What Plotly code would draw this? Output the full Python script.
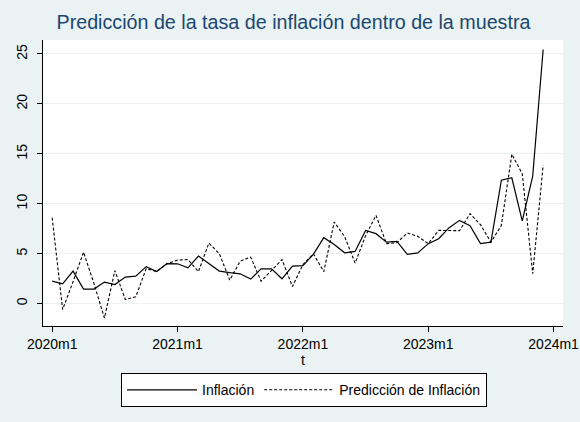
import plotly.graph_objects as go

# meses desde 2020m1 (0) hasta 2023m12 (47)
meses = list(range(48))

inflacion = [2.24, 1.98, 3.25, 1.45, 1.45, 2.15, 1.9, 2.65, 2.75, 3.7, 3.2, 4.0,
             3.98, 3.58, 4.75, 4.0, 3.25, 3.1, 2.98, 2.45, 3.48, 3.48, 2.48, 3.75,
             3.8, 4.92, 6.6, 5.92, 5.08, 5.22, 7.33, 7.0, 6.15, 6.22, 4.92, 5.08,
             6.0, 6.49, 7.6, 8.33, 7.8, 6.0, 6.15, 12.35, 12.6, 8.27, 12.75, 25.45]

prediccion = [8.6, -0.6, 2.2, 5.15, 2.0, -1.45, 3.3, 0.4, 0.67, 3.5, 3.2, 4.0,
              4.35, 4.4, 3.2, 6.05, 5.0, 2.35, 4.25, 4.65, 2.24, 3.3, 4.4, 1.7,
              3.9, 4.98, 3.2, 8.17, 6.7, 4.05, 6.8, 8.83, 6.0, 6.1, 7.06, 6.73,
              6.0, 7.33, 7.33, 7.3, 9.0, 7.9, 6.15, 7.83, 14.96, 13.0, 2.98, 13.85]

tick_pos = [0, 12, 24, 36, 48]
tick_txt = ["2020m1", "2021m1", "2022m1", "2023m1", "2024m1"]
y_ticks = [0, 5, 10, 15, 20, 25]

fondo = "#eaf2f3"

fig = go.Figure()
fig.add_trace(go.Scatter(
    x=meses, y=inflacion, mode="lines", name="Inflación",
    line=dict(color="black", width=1.2)
))
fig.add_trace(go.Scatter(
    x=meses, y=prediccion, mode="lines", name="Predicción de Inflación",
    line=dict(color="black", width=1.1, dash="3px,2px")
))

fig.update_layout(
    width=580, height=422,
    margin=dict(l=43, r=17, t=40, b=96, autoexpand=False),
    paper_bgcolor=fondo,
    plot_bgcolor="white",
    font=dict(family="Liberation Sans, Arial", size=14, color="black"),
    title=dict(
        text="Predicción de la tasa de inflación dentro de la muestra",
        font=dict(size=19.7, color="#1a476f"),
        x=0.506, xanchor="center", xref="container",
        y=0.948, yanchor="middle", yref="container"
    ),
    xaxis=dict(
        range=[-0.88, 48.9],
        tickvals=tick_pos, ticktext=tick_txt,
        ticks="outside", ticklen=5, tickcolor="black",
        showline=True, linecolor="black", linewidth=1,
        showgrid=False, zeroline=False, automargin=False,
        title=dict(text="t", standoff=0, font=dict(size=14))
    ),
    yaxis=dict(
        range=[-2.25, 26.4],
        tickvals=y_ticks, tickangle=-90,
        ticks="outside", ticklen=5, tickcolor="black",
        ticklabelstandoff=4,
        showline=True, linecolor="black", linewidth=1,
        showgrid=True, gridcolor=fondo, gridwidth=1,
        zeroline=False, automargin=False
    ),
    legend=dict(
        orientation="h",
        x=0.502, xanchor="center",
        y=-0.165, yanchor="top",
        bgcolor="white", bordercolor="black", borderwidth=1,
        itemwidth=70,
        font=dict(size=14)
    ),
)

# sin margen del navegador alrededor de la figura
fig.write_html("out.html", config={"displayModeBar": False},
               post_script="document.body.style.margin='0';")
